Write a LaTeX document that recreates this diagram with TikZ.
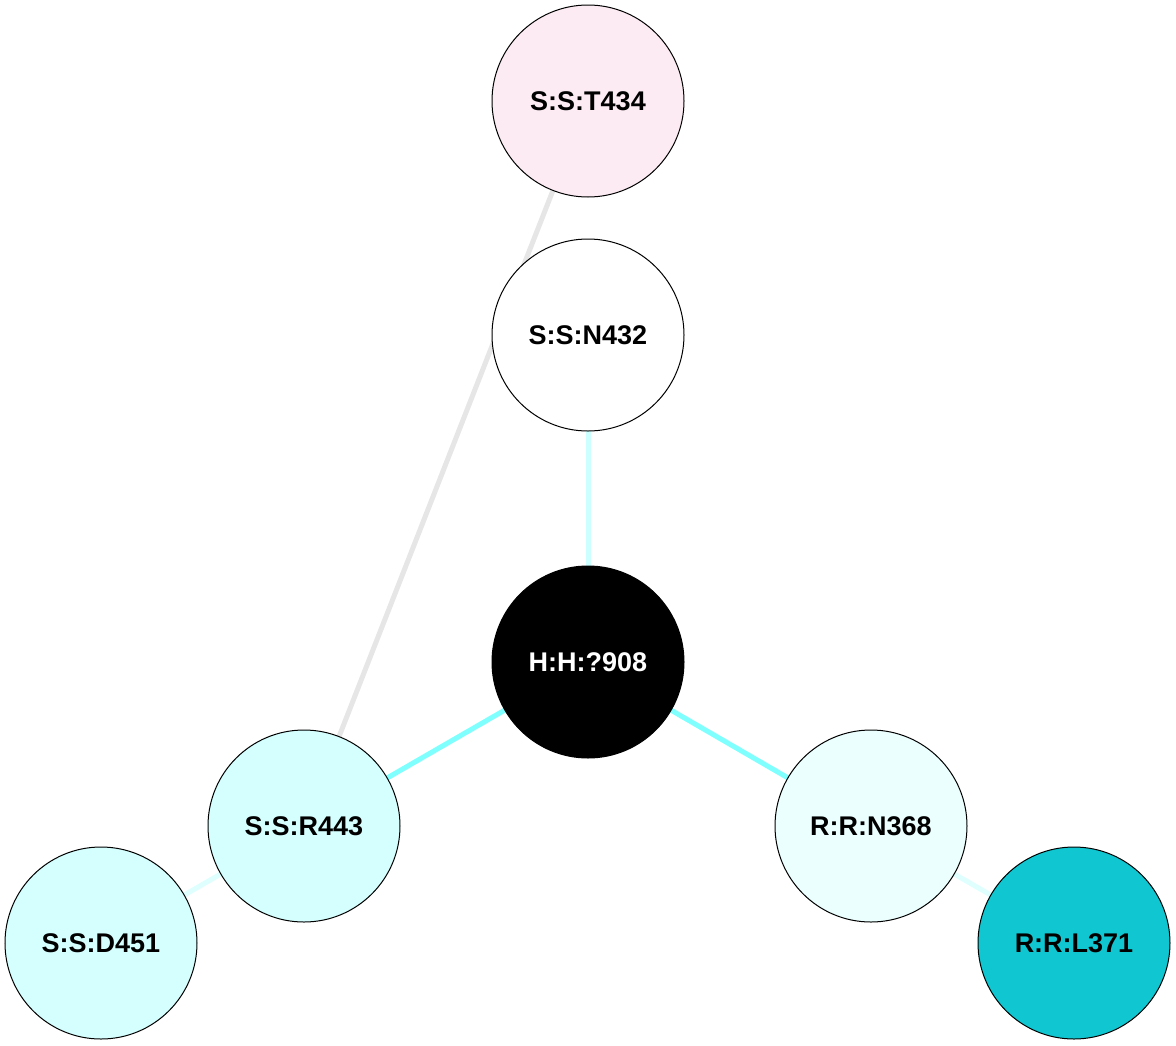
\documentclass[tikz,border=0pt]{standalone}
\usepackage{fontspec}
\setmainfont{Liberation Sans}
\usetikzlibrary{backgrounds}
\definecolor{pinkfill}{HTML}{FCEBF3}
\definecolor{cyanfill}{HTML}{D5FFFF}
\definecolor{palefill}{HTML}{EBFFFF}
\definecolor{tealfill}{HTML}{10C6D0}
\definecolor{grayedge}{HTML}{E6E6E6}
\definecolor{cyanedge}{HTML}{80FFFF}
\definecolor{lightedge}{HTML}{CCFFFF}
\definecolor{paleedge}{HTML}{DFFFFF}
\tikzset{
  res/.style={circle, draw=black, line width=1pt, minimum size=192pt, inner sep=0pt,
    font=\fontsize{27}{32}\selectfont\bfseries},
  link/.style={line width=5pt}
}
\begin{document}
\begin{tikzpicture}[x=1pt,y=-1pt]
\useasboundingbox (0,0) rectangle (1176,1045);
\node[res, fill=pinkfill] (T434) at (588,101) {S:S:T434};
\node[res, fill=white] (N432) at (588,335) {S:S:N432};
\node[res, fill=black, text=white] (H908) at (588,662) {H:H:?908};
\node[res, fill=cyanfill] (R443) at (304,826) {S:S:R443};
\node[res, fill=palefill] (N368) at (871,826) {R:R:N368};
\node[res, fill=cyanfill] (D451) at (101,943) {S:S:D451};
\node[res, fill=tealfill] (L371) at (1074,943) {R:R:L371};
\begin{pgfonlayer}{background}
\draw[link, grayedge] (T434.center) -- (R443.center);
\draw[link, lightedge] (N432.center) -- (H908.center);
\draw[link, cyanedge] (H908.center) -- (R443.center);
\draw[link, cyanedge] (H908.center) -- (N368.center);
\draw[link, paleedge] (R443.center) -- (D451.center);
\draw[link, paleedge] (N368.center) -- (L371.center);
\end{pgfonlayer}
\end{tikzpicture}
\end{document}
